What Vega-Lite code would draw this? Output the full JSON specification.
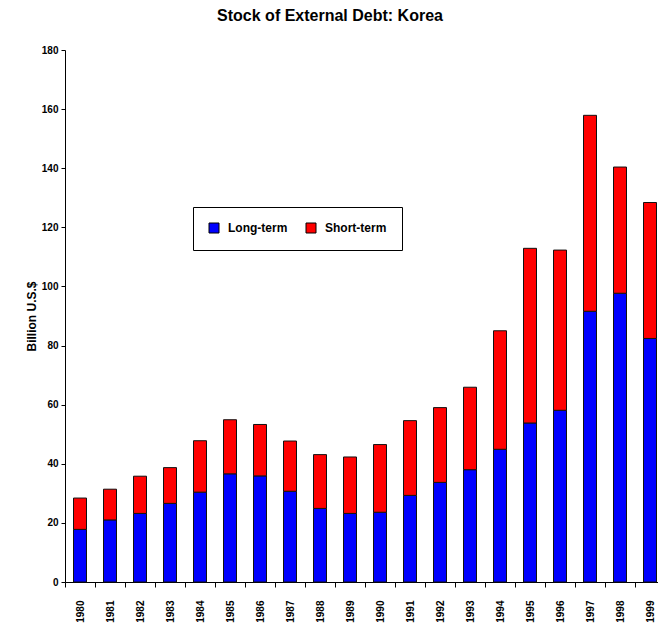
{
  "$schema": "https://vega.github.io/schema/vega-lite/v6.json",
  "autosize": "none",
  "width": 600,
  "height": 532,
  "padding": {"left": 65, "top": 50, "right": 0, "bottom": 43},
  "background": "white",
  "title": {
    "text": "Stock of External Debt: Korea",
    "font": "Liberation Sans",
    "fontSize": 16,
    "fontWeight": "bold",
    "color": "black",
    "anchor": "middle",
    "offset": 21,
    "dx": -35
  },
  "config": {
    "view": {"stroke": null},
    "axis": {"labelFont": "Liberation Sans", "titleFont": "Liberation Sans", "labelFontWeight": "bold", "titleFontWeight": "bold", "labelColor": "black", "titleColor": "black", "domainColor": "black", "tickColor": "black", "grid": false},
    "legend": {"labelFont": "Liberation Sans"}
  },
  "data": {
    "values": [
      {"year": "1980", "type": "Long-term", "value": 17.8}, {"year": "1980", "type": "Short-term", "value": 10.6},
      {"year": "1981", "type": "Long-term", "value": 21.0}, {"year": "1981", "type": "Short-term", "value": 10.4},
      {"year": "1982", "type": "Long-term", "value": 23.2}, {"year": "1982", "type": "Short-term", "value": 12.6},
      {"year": "1983", "type": "Long-term", "value": 26.6}, {"year": "1983", "type": "Short-term", "value": 12.1},
      {"year": "1984", "type": "Long-term", "value": 30.4}, {"year": "1984", "type": "Short-term", "value": 17.4},
      {"year": "1985", "type": "Long-term", "value": 36.6}, {"year": "1985", "type": "Short-term", "value": 18.3},
      {"year": "1986", "type": "Long-term", "value": 35.9}, {"year": "1986", "type": "Short-term", "value": 17.4},
      {"year": "1987", "type": "Long-term", "value": 30.7}, {"year": "1987", "type": "Short-term", "value": 17.0},
      {"year": "1988", "type": "Long-term", "value": 24.9}, {"year": "1988", "type": "Short-term", "value": 18.2},
      {"year": "1989", "type": "Long-term", "value": 23.2}, {"year": "1989", "type": "Short-term", "value": 19.1},
      {"year": "1990", "type": "Long-term", "value": 23.6}, {"year": "1990", "type": "Short-term", "value": 22.9},
      {"year": "1991", "type": "Long-term", "value": 29.3}, {"year": "1991", "type": "Short-term", "value": 25.3},
      {"year": "1992", "type": "Long-term", "value": 33.7}, {"year": "1992", "type": "Short-term", "value": 25.3},
      {"year": "1993", "type": "Long-term", "value": 38.0}, {"year": "1993", "type": "Short-term", "value": 27.9},
      {"year": "1994", "type": "Long-term", "value": 44.9}, {"year": "1994", "type": "Short-term", "value": 40.1},
      {"year": "1995", "type": "Long-term", "value": 53.8}, {"year": "1995", "type": "Short-term", "value": 59.1},
      {"year": "1996", "type": "Long-term", "value": 58.1}, {"year": "1996", "type": "Short-term", "value": 54.2},
      {"year": "1997", "type": "Long-term", "value": 91.6}, {"year": "1997", "type": "Short-term", "value": 66.3},
      {"year": "1998", "type": "Long-term", "value": 97.7}, {"year": "1998", "type": "Short-term", "value": 42.7},
      {"year": "1999", "type": "Long-term", "value": 82.4}, {"year": "1999", "type": "Short-term", "value": 46.0}
    ]
  },
  "mark": {"type": "bar", "size": 13, "stroke": "#111111", "strokeWidth": 1},
  "encoding": {
    "x": {
      "field": "year",
      "type": "ordinal",
      "scale": {"paddingInner": 0, "paddingOuter": 0},
      "axis": {"title": null, "labelAngle": 270, "labelFontSize": 10, "tickBand": "extent", "tickSize": 5, "labelPadding": 13, "domainWidth": 1, "labelAlign": "right", "labelBaseline": "middle"}
    },
    "y": {
      "field": "value",
      "type": "quantitative",
      "stack": "zero",
      "scale": {"domain": [0, 180]},
      "axis": {"title": "Billion U.S.$", "values": [0, 20, 40, 60, 80, 100, 120, 140, 160, 180], "labelFontSize": 10, "titleFontSize": 12, "tickSize": 4, "labelPadding": 3, "titlePadding": 3}
    },
    "color": {
      "field": "type",
      "type": "nominal",
      "scale": {"domain": ["Long-term", "Short-term"], "range": ["#0000FF", "#FF0000"]},
      "legend": {
        "title": null,
        "orient": "none",
        "legendX": 128,
        "legendY": 157,
        "direction": "horizontal",
        "symbolType": "square",
        "symbolSize": 100,
        "symbolStrokeColor": "black",
        "symbolStrokeWidth": 1,
        "labelFontSize": 12,
        "labelFontWeight": "bold",
        "labelColor": "black",
        "strokeColor": "black",
        "fillColor": "white",
        "padding": 15,
        "columnPadding": 16,
        "labelOffset": 8
      }
    },
    "order": {"field": "type", "sort": "ascending"}
  }
}
